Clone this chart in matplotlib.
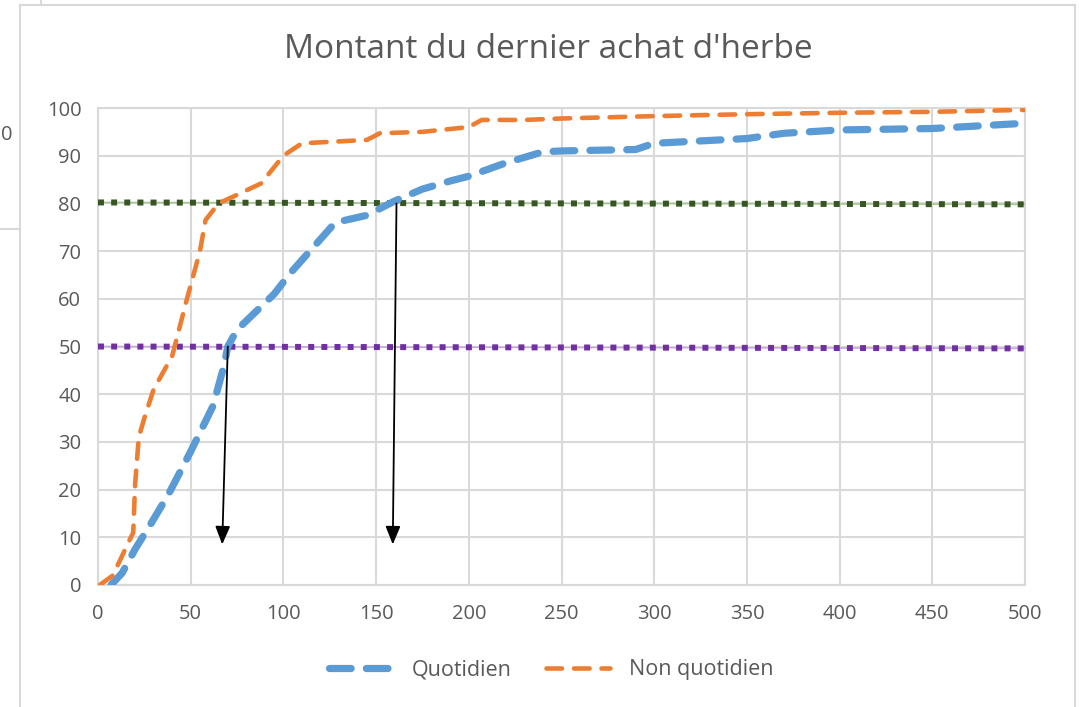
import matplotlib.pyplot as plt
from matplotlib.lines import Line2D

plt.rcParams['font.family'] = ['Open Sans', 'DejaVu Sans']

# Quotidien (blue)
q_x = [7, 13, 20, 28, 38, 50, 62, 68, 70, 75, 95, 104, 120, 128, 145, 160,
       175, 190, 200, 220, 240, 250, 290, 300, 350, 370, 400, 450, 500]
q_y = [0, 2.5, 7.5, 12.5, 19, 28, 37.5, 46, 50, 53.5, 61, 65.5, 72.5, 76, 77.5, 80.5,
       83, 84.7, 85.7, 88.5, 90.8, 91, 91.3, 92.6, 93.6, 94.7, 95.4, 95.7, 96.8]

# Non quotidien (orange)
n_x = [1, 8, 17, 19, 20, 22, 25, 30, 40, 48, 55, 58, 65, 75, 88, 100, 110,
       145, 152, 175, 200, 207, 230, 250, 300, 350, 400, 450, 500]
n_y = [0, 2, 9.4, 11, 21, 31, 35, 41, 48, 60, 70, 76.5, 80, 81.8, 84.2, 90, 92.6,
       93.3, 94.7, 95, 96, 97.5, 97.5, 97.8, 98.3, 98.7, 99, 99.2, 99.6]

# reference levels and arrows
lvl_x = [0, 500]
lvl80 = [80.2, 79.8]
lvl50 = [50.0, 49.6]
arrows = [((70, 50), (67, 8.5)), ((161, 80), (159, 8.5))]

x_ticks = list(range(0, 501, 50))
y_ticks = list(range(0, 101, 10))

grey = "#595959"
grid_c = "#D9D9D9"

fig = plt.figure(figsize=(10.79, 7.07), dpi=100)
fig.patch.set_facecolor("white")
ax = fig.add_axes([98 / 1079, 1 - 585 / 707, 927 / 1079, 477 / 707])

# dotted levels: faint thin line underneath + square dots
for ys, c, faint in [(lvl80, "#375623", "#A9C59A"), (lvl50, "#7030A0", "#C9A8E0")]:
    ax.plot(lvl_x, ys, color=faint, lw=1.2, zorder=2.9)
    ax.plot(lvl_x, ys, color=c, lw=4.3, dashes=(1, 1.2),
            dash_capstyle="butt", zorder=3)

ax.plot(q_x, q_y, color="#5B9BD5", lw=5.2, dashes=(3, 2.1),
        dash_capstyle="round", solid_joinstyle="round", label="Quotidien", zorder=4)
ax.plot(n_x, n_y, color="#ED7D31", lw=3.3, dashes=(3.4, 2.6),
        dash_capstyle="round", solid_joinstyle="round", label="Non quotidien", zorder=5)

for (x0, y0), (x1, y1) in arrows:
    ax.annotate("", xy=(x1, y1), xytext=(x0, y0),
                arrowprops=dict(arrowstyle="-|>,head_length=1.1,head_width=0.45",
                                color="black", lw=1.3, shrinkA=0, shrinkB=0),
                zorder=6)

ax.set_xlim(0, 500)
ax.set_ylim(0, 100)
ax.set_xticks(x_ticks)
ax.set_yticks(y_ticks)
ax.tick_params(length=0, labelsize=14.5, colors=grey)
ax.tick_params(axis="x", pad=14)
ax.tick_params(axis="y", pad=12)
ax.grid(True, color=grid_c, lw=1.5)
ax.set_axisbelow(True)
for s in ax.spines.values():
    s.set_color(grid_c)
    s.set_linewidth(1.5)

fig.text(548 / 1079, 1 - 50 / 707, "Montant du dernier achat d'herbe",
         ha="center", va="center", fontsize=24, color=grey)

leg = fig.legend(loc="center", bbox_to_anchor=(551 / 1079, 1 - 670 / 707),
                 ncol=2, frameon=False, fontsize=15.5, labelcolor=grey,
                 handlelength=3.0, columnspacing=1.6, handletextpad=0.85)

# surrounding chart frame bits from the screenshot
def fline(xs, ys):
    fig.add_artist(Line2D([x / 1079 for x in xs], [1 - y / 707 for y in ys],
                          color=grid_c, lw=1.5))

fline([20, 1075], [5, 5])
fline([20, 20], [5, 707])
fline([1075, 1075], [5, 707])
fline([41, 41], [0, 4])
fline([0, 19], [229, 229])
fig.text(0.5 / 1079, 1 - 135 / 707, "0", ha="left", va="center",
         fontsize=14.5, color=grey)

fig.savefig("out.png", dpi=100)
